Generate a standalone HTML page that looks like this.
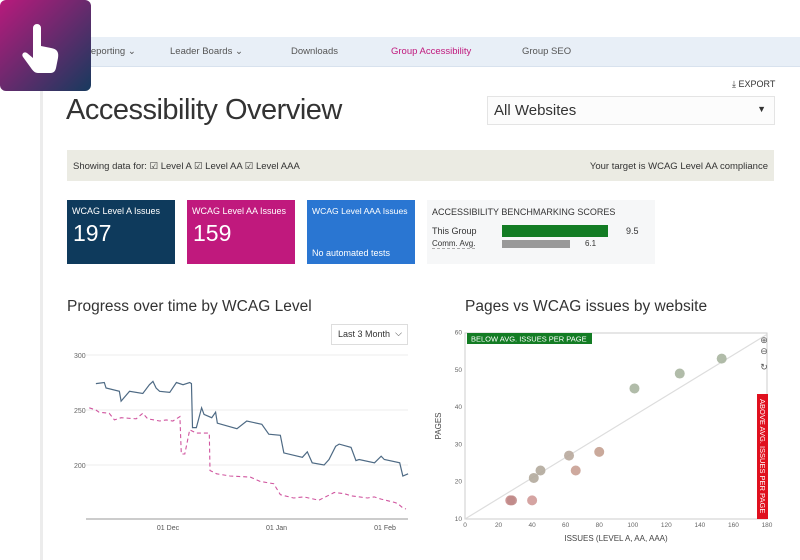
<!DOCTYPE html>
<html><head><meta charset="utf-8"><style>
body{margin:0;width:800px;height:560px;overflow:hidden;background:#fff;font-family:"Liberation Sans",sans-serif;position:relative;color:#333}
.abs{position:absolute}
.nav{left:42px;top:37px;width:758px;height:29px;background:#e8eff7;border-bottom:1px solid #d8e2ee}
.nav span{position:absolute;top:9px;font-size:9.5px;color:#555}
.card{top:200px;width:108px;height:64px;color:#fff}
.card .t{position:absolute;left:5px;top:6px;font-size:9px;white-space:nowrap}
.card .n{position:absolute;left:6px;top:20px;font-size:23px}
</style></head><body>
<div class="abs" style="left:40px;top:0;width:3px;height:560px;background:#ececec"></div>
<div class="abs nav">
<span style="left:42px">Reporting ⌄</span>
<span style="left:128px">Leader Boards ⌄</span>
<span style="left:249px">Downloads</span>
<span style="left:349px;color:#c0197d">Group Accessibility</span>
<span style="left:480px">Group SEO</span>
</div>
<div class="abs" style="left:0;top:0;width:91px;height:91px;border-radius:6px;background:linear-gradient(135deg,#b81a7c,#173a5e)">
<svg width="91" height="91"><path d="M33 28 a4 4 0 0 1 8 0 v18 l10 2 c6 1 8 4 7 10 l-2 10 c-1 4-3 5-6 5 h-12 c-3 0-5-2-7-5 l-8-11 c-2-3 1-6 4-4 l6 5z" fill="#fff"/></svg></div>
<div class="abs" style="left:732px;top:79px;font-size:9px;color:#333">⤓ EXPORT</div>
<div class="abs" style="left:66px;top:94px;font-size:29px;font-weight:300;color:#333;letter-spacing:-0.5px">Accessibility Overview</div>
<div class="abs" style="left:487px;top:96px;width:286px;height:27px;border:1px solid #e4e4e4;background:#fcfcfc"><span style="position:absolute;left:6px;top:5px;font-size:15px">All Websites</span><span style="position:absolute;right:8px;top:7px;font-size:9px">▼</span></div>
<div class="abs" style="left:67px;top:150px;width:707px;height:31px;background:#ebebe3;font-size:9.5px">
<span style="position:absolute;left:6px;top:11px">Showing data for: <span>☑ Level A</span> <span>☑ Level AA</span> <span>☑ Level AAA</span></span>
<span style="position:absolute;right:6px;top:11px">Your target is WCAG Level AA compliance</span></div>
<div class="abs card" style="left:67px;background:#0e3a5c"><div class="t">WCAG Level A Issues</div><div class="n">197</div></div>
<div class="abs card" style="left:187px;background:#c0197d"><div class="t">WCAG Level AA Issues</div><div class="n">159</div></div>
<div class="abs card" style="left:307px;background:#2a76d2"><div class="t" style="font-size:8.6px">WCAG Level AAA Issues</div><div style="position:absolute;left:5px;top:48px;font-size:9px">No automated tests</div></div>
<div class="abs" style="left:427px;top:200px;width:228px;height:64px;background:#f6f7f8;font-size:9px">
<div style="position:absolute;left:5px;top:7px">ACCESSIBILITY BENCHMARKING SCORES</div>
<div style="position:absolute;left:5px;top:26px">This Group</div>
<div style="position:absolute;left:75px;top:25px;width:106px;height:12px;background:#137c24"></div>
<div style="position:absolute;left:199px;top:26px">9.5</div>
<div style="position:absolute;left:5px;top:39px;font-size:8px;border-bottom:1px dashed #aaa">Comm. Avg.</div>
<div style="position:absolute;left:75px;top:40px;width:68px;height:8px;background:#999"></div>
<div style="position:absolute;left:158px;top:39px;font-size:8px">6.1</div></div>
<div class="abs" style="left:67px;top:298px;font-size:15.5px">Progress over time by WCAG Level</div>
<div class="abs" style="left:465px;top:298px;font-size:15.5px">Pages vs WCAG issues by website</div>
<div class="abs" style="left:331px;top:324px;width:75px;height:19px;border:1px solid #ddd;font-size:9px"><span style="position:absolute;left:6px;top:4px">Last 3 Month</span><span style="position:absolute;right:5px;top:3px">⌵</span></div>
<svg class="abs" id="c1" style="left:0;top:0" width="800" height="560"></svg>
<script>
const lineDays=[-20.6,-18.2,-17.7,-13.9,-13.4,-11,-7.2,-5.3,-4.3,-3.4,-2.4,0.5,2.4,4.3,6.2,6.7,7,8.1,9.6,10.3,12.5,13.6,14.1,19.7,22.5,26.8,28.8,32.1,33.1,38.4,39.8,41.2,44.6,46,47.9,48.9,52.3,53.7,54.6,59,60.9,61.8,66.2,67.1,68.6];
const levelAValues=[274,275,270,267,258,267,265,273,276,270,267,266,275,273,275,274,234,234,252,246,243,248,238,233,240,237,228,227,211,207,212,202,200,205,217,219,216,204,205,202,208,205,202,190,192];
const aaDays=[-22.5,-20.6,-19.7,-16.8,-15.3,-13.4,-9.1,-7.2,-5.8,-2.4,-0.5,1.4,3.4,3.8,4.8,6.2,8.1,11.8,12,13.9,17.7,23.5,26.4,30.2,32.1,35.9,38.8,43.1,47.5,50.3,52.3,57,58.9,60.9,64.7,65.6,67.1,68];
const levelAAValues=[252,250,248,247,241,243,242,247,242,240,241,240,244,210,210,232,229,229,195,192,190,189,185,183,173,170,171,168,175,174,172,170,171,169,166,165,161,160];
const yTicks=[300,250,200];
const xTickDays=[0,31,62];
const xTickLabels=["01 Dec","01 Jan","01 Feb"];
const scatterIssues=[27,28,40,41,45,62,66,80,101,128,153];
const scatterPages=[15,15,15,21,23,27,23,28,45,49,53];
const scatterColors=["#c88a88","#c08a88","#d09a98","#b3aa9c","#b3aa9c","#b8a89c","#c9a094","#c4a090","#a9b5a0","#a9b5a0","#a9b5a0"];
const sxTicks=[0,20,40,60,80,100,120,140,160,180];
const syTicks=[10,20,30,40,50,60];
const NS="http://www.w3.org/2000/svg";
const svg=document.getElementById('c1');
function mk(t,a,txt){const e=document.createElementNS(NS,t);for(const k in a)e.setAttribute(k,a[k]);if(txt!==undefined)e.textContent=txt;svg.appendChild(e);return e;}
const X=d=>168+3.5*d, Y=v=>355+(300-v)*1.1;
yTicks.forEach(v=>{let g=mk('line',{x1:86,x2:408,y1:Y(v),y2:Y(v),stroke:'#eee'});

let t=mk('text',{x:74,y:Y(v)+3,'font-size':7,fill:'#666'},v);
});
let ax=mk('line',{x1:86,x2:408,y1:519,y2:519,stroke:'#999'});

xTickDays.forEach((d,i)=>{let t=mk('text',{x:X(d),y:530,'font-size':7,fill:'#555','text-anchor':'middle'},xTickLabels[i]);
});
let pA=mk('polyline',{points:lineDays.map((d,i)=>X(d)+','+Y(levelAValues[i])).join(' '),fill:'none',stroke:'#4e6a84','stroke-width':1.2});

let pAA=mk('polyline',{points:aaDays.map((d,i)=>X(d)+','+Y(levelAAValues[i])).join(' '),fill:'none',stroke:'#d0559f','stroke-width':1.1,'stroke-dasharray':'4 3'});

// scatter
const SX=v=>465+v*(302/180), SY=v=>519-(v-10)*3.73;
let box=mk('rect',{x:465,y:333,width:302,height:186,fill:'none',stroke:'#ccc'});

sxTicks.forEach(v=>{let t=mk('text',{x:SX(v),y:527,'font-size':6.5,fill:'#666','text-anchor':'middle'},v);
});
syTicks.forEach(v=>{let t=mk('text',{x:462,y:SY(v)+2,'font-size':6.5,fill:'#666','text-anchor':'end'},v);
});
let tr=mk('line',{x1:SX(0),y1:SY(10),x2:SX(180),y2:SY(59.5),stroke:'#ddd','stroke-width':1.2});

scatterIssues.forEach((v,i)=>{let c=mk('circle',{cx:SX(v),cy:SY(scatterPages[i]),r:5,fill:scatterColors[i],'fill-opacity':0.9});
});
let bl=mk('rect',{x:467,y:333,width:125,height:11,fill:'#137c24'});

let blt=mk('text',{x:471,y:341.5,'font-size':7.5,fill:'#fff'},'BELOW AVG. ISSUES PER PAGE');

let ar=mk('rect',{x:757,y:394,width:11,height:125,fill:'#e0101e'});

let art=mk('text',{x:0,y:0,'font-size':7.5,fill:'#fff',transform:'translate(760,399) rotate(90)'},'ABOVE AVG. ISSUES PER PAGE');

let xt=mk('text',{x:616,y:541,'font-size':8,fill:'#444','text-anchor':'middle'},'ISSUES (LEVEL A, AA, AAA)');

let yt=mk('text',{x:0,y:0,'font-size':8,fill:'#444','text-anchor':'middle',transform:'translate(441,426) rotate(-90)'},'PAGES');

[['zoom-in-button',343,'⊕'],['zoom-out-button',354,'⊖'],['reset-zoom-button',370,'↻']].forEach(b=>{
let t=mk('text',{x:764,y:b[1],'font-size':9,fill:'#555','text-anchor':'middle'},b[2]);
});
</script>
</body></html>
